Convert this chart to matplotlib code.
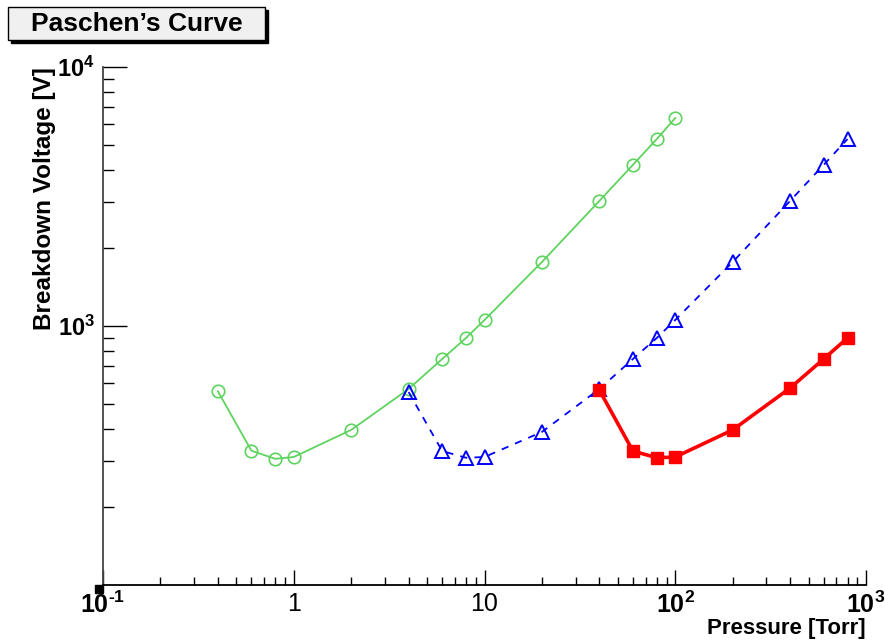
import numpy as np
import matplotlib
matplotlib.use('Agg')
import matplotlib.pyplot as plt
import matplotlib.transforms as mtransforms
from matplotlib.ticker import LogLocator, FixedFormatter, FixedLocator, NullFormatter
from matplotlib.patches import Rectangle

plt.rcParams['font.family'] = ['Liberation Sans', 'DejaVu Sans']
plt.rcParams['mathtext.fontset'] = 'custom'
plt.rcParams['mathtext.rm'] = 'Liberation Sans:bold'
plt.rcParams['mathtext.bf'] = 'Liberation Sans:bold'
plt.rcParams['mathtext.it'] = 'Liberation Sans:bold'

# data
p_green = [0.4, 0.6, 0.8, 1, 2, 4, 6, 8, 10, 20, 40, 60, 80, 100]
v_green = [560, 330, 307, 312, 397, 571, 746, 899, 1055, 1766, 3040, 4190, 5270, 6350]

p_blue = [4, 6, 8, 10, 20, 40, 60, 80, 100, 200, 400, 600, 800]
v_blue = [556, 329, 310, 312, 390, 571, 746, 899, 1055, 1766, 3040, 4190, 5270]

p_red = [40, 60, 80, 100, 200, 400, 600, 800]
v_red = [566, 329, 310, 312, 397, 576, 746, 899]

xticks = [0.1, 1, 10, 100, 1000]
xticklabels = ['$10^{\u2010 1}$', '1', '10', r'$10^{2}$', r'$10^{3}$']
yticks = [1000, 10000]
yticklabels = [r'$10^{3}$', r'$10^{4}$']

fig = plt.figure(figsize=(8.85, 6.4), dpi=100)
ax = fig.add_axes([103/885, 1 - 585/640, (866-103)/885, (585-67)/640])

ax.plot(p_green, v_green, '-', color='#5fd35f', lw=1.3, marker='o', ms=9,
        mfc='none', mec='#5fd35f', mew=1.2, zorder=3)
ax.plot(p_blue, v_blue, '--', color='#0000ff', lw=1.3, dashes=(4, 4), marker='^', ms=9.5,
        mfc='none', mec='#0000ff', mew=1.4, zorder=4)
ax.plot(p_red, v_red, '-', color='#ff0000', lw=2.6, marker='s', ms=8,
        mfc='#ff0000', mec='#ff0000', zorder=5)

ax.set_xscale('log')
ax.set_yscale('log')
ax.set_xlim(0.1, 1000)
ax.set_ylim(100, 10000)

for s in ['top', 'right']:
    ax.spines[s].set_visible(False)
ax.spines['left'].set_color('#444444')
ax.spines['left'].set_linewidth(1.3)
ax.spines['bottom'].set_linewidth(1.3)

ax.xaxis.set_major_locator(FixedLocator(xticks))
ax.xaxis.set_major_formatter(FixedFormatter(xticklabels))
ax.xaxis.set_minor_locator(LogLocator(base=10, subs=np.arange(2, 10)))
ax.xaxis.set_minor_formatter(NullFormatter())
ax.yaxis.set_major_locator(FixedLocator(yticks))
ax.yaxis.set_major_formatter(FixedFormatter(yticklabels))
ax.yaxis.set_minor_locator(LogLocator(base=10, subs=np.arange(2, 10)))
ax.yaxis.set_minor_formatter(NullFormatter())

ax.tick_params(axis='x', which='major', direction='in', length=11, width=1, labelsize=18, pad=5)
ax.tick_params(axis='x', which='minor', direction='in', length=6, width=1)
ax.tick_params(axis='y', which='major', direction='in', length=17, width=1, labelsize=17, pad=6)
ax.tick_params(axis='y', which='minor', direction='in', length=8, width=1)

ax.set_xlabel('Pressure [Torr]', fontsize=16, fontweight='bold', ha='right', va='baseline')
ax.xaxis.set_label_coords(1.0, -0.0946)
ax.set_ylabel('Breakdown Voltage [V]', fontsize=17.5, fontweight='bold', ha='right')
ax.yaxis.set_label_coords(-0.062, 1.0)

# small corner square (ROOT artefact)
off = mtransforms.ScaledTranslation(-4/100, -4/100, fig.dpi_scale_trans)
ax.plot([0], [0], 's', color='black', ms=6, transform=ax.transAxes + off, clip_on=False, zorder=6)

# title box with shadow
fig.patches.append(Rectangle((11/885, 1 - 43/640), 257/885, 33/640, transform=fig.transFigure,
                             facecolor='black', edgecolor='black', zorder=1))
fig.patches.append(Rectangle((8/885, 1 - 40/640), 257/885, 33/640, transform=fig.transFigure,
                             facecolor='#f0f0f0', edgecolor='black', lw=1, zorder=2))
fig.text(137/885, 1 - 24/640, 'Paschen\u2019s Curve', fontsize=19, fontweight='bold',
         ha='center', va='center', zorder=3)

fig.savefig('out.png', dpi=100)
